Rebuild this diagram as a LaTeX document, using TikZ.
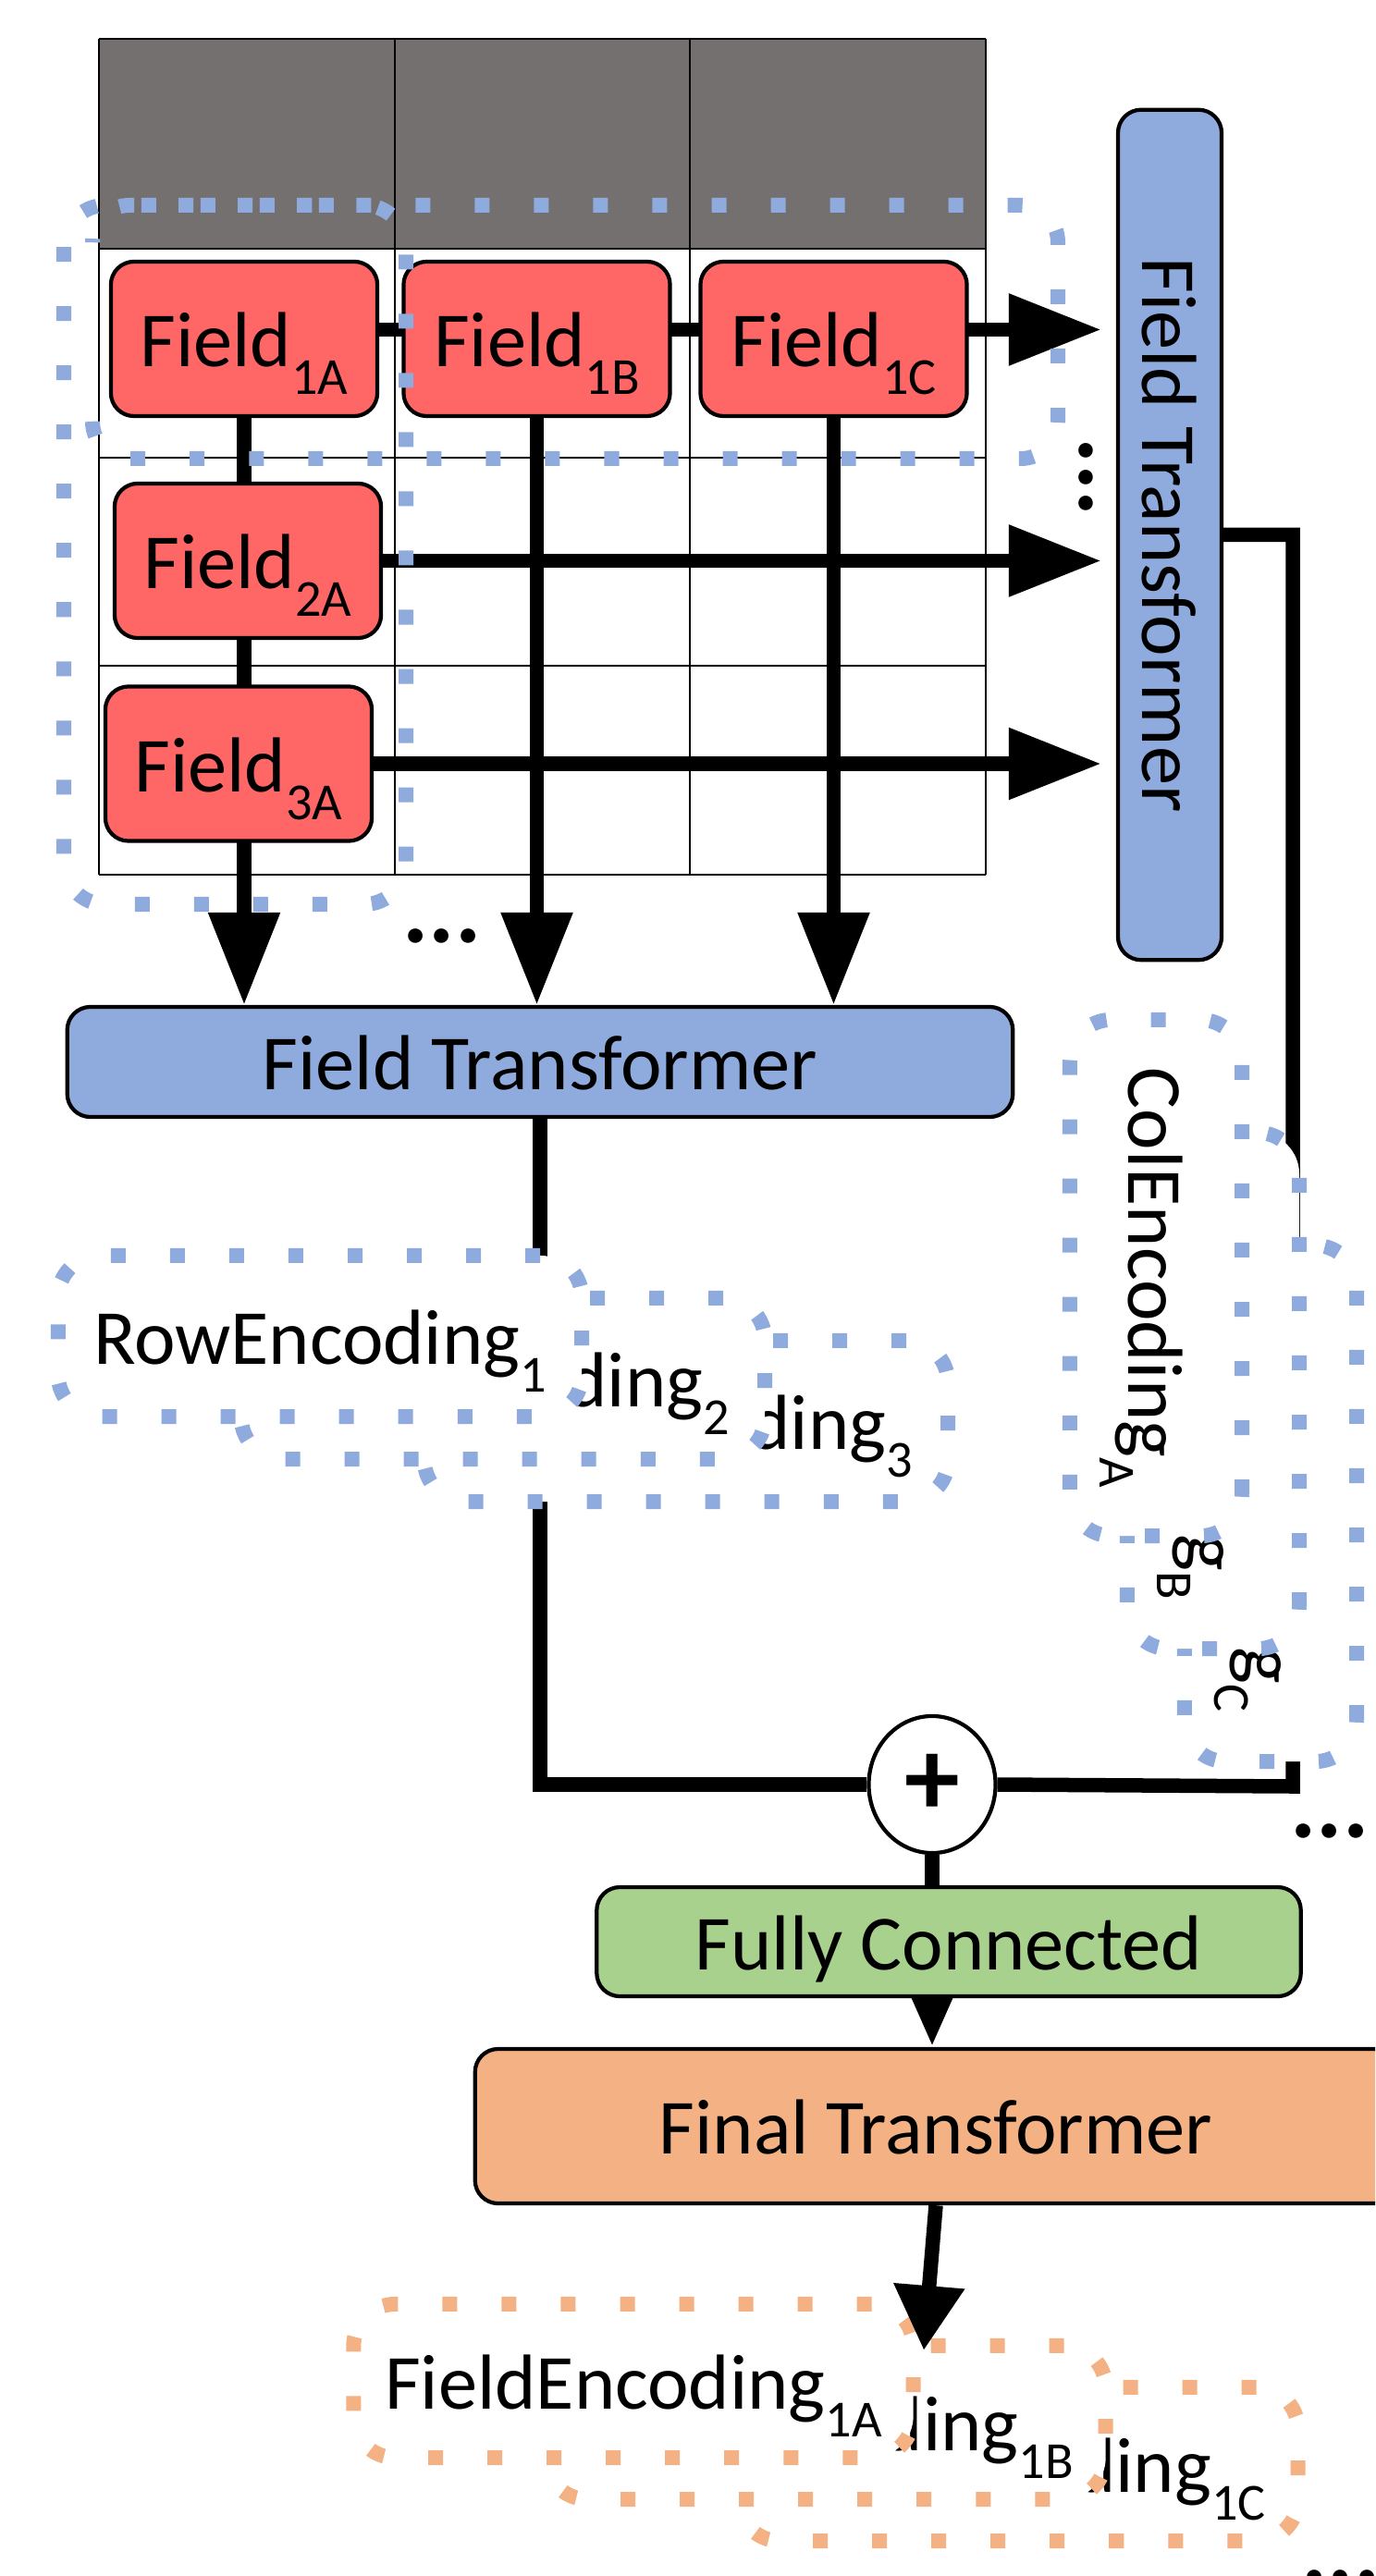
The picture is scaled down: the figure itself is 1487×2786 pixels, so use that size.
\documentclass[tikz,border=0pt]{standalone}
\usepackage{fontspec}
\setmainfont{Carlito}
\usetikzlibrary{arrows.meta,shapes.geometric}
\definecolor{hdrgray}{HTML}{757070}
\definecolor{cellred}{HTML}{FF6666}
\definecolor{tfblue}{HTML}{8FAADC}
\definecolor{fcgreen}{HTML}{A9D18E}
\definecolor{outorange}{HTML}{F4B183}
\pgfdeclarelayer{gridlayer}
\pgfdeclarelayer{wirelayer}
\pgfsetlayers{gridlayer,wirelayer,main}
\newcommand{\idx}[1]{\raisebox{-0.3cm}{\fontsize{16}{16}\selectfont #1}}
\tikzset{
  solidbox/.style={draw, line width=1.2pt, rounded corners=0.25cm, inner sep=0pt,
    font=\fontsize{24}{28}\selectfont, text height=0.6cm, text depth=0pt},
  field/.style={solidbox, fill=cellred, minimum width=2.88cm, minimum height=1.67cm},
  encbox/.style={draw=#1, fill=white, line width=0.16cm, dash pattern=on 0.16cm off 0.48cm,
    rounded corners=0.45cm, inner sep=0pt, font=\fontsize{24}{28}\selectfont,
    text height=0.6cm, text depth=0pt},
  seldots/.style={draw=tfblue, line width=0.16cm, dash pattern=on 0.16cm off 0.48cm},
  wire/.style={line width=0.155cm},
  bigtip/.style={-{Triangle[length=1cm,width=0.74cm]}},
  gridline/.style={line width=0.6pt},
  ellip/.style={font=\fontsize{30}{30}\selectfont\bfseries, inner sep=0pt}
}
\begin{document}
\begin{tikzpicture}[x=0.01cm, y=-0.01cm]
\useasboundingbox (0,0) rectangle (1487,2786);
\clip (0,0) rectangle (1487,2786);
\begin{pgfonlayer}{gridlayer}
\fill[hdrgray] (107,42) rectangle (1066,269);
\foreach \x in {107,427,746,1066} \draw[gridline] (\x,42) -- (\x,946);
\foreach \y in {42,269,495,720,946} \draw[gridline] (107,\y) -- (1066,\y);
\end{pgfonlayer}
\node[field] (f1a) at (264,366.5) {Field\idx{1A}};
\node[field] (f1b) at (580.5,366.5) {Field\idx{1B}};
\node[field] (f1c) at (901.5,366.5) {Field\idx{1C}};
\node[field] (f2a) at (268,606.5) {Field\idx{2A}};
\node[field] (f3a) at (258,826) {Field\idx{3A}};
\node[solidbox, fill=tfblue, minimum width=10.22cm, minimum height=1.19cm] (ftb) at (584,1148.5) {Field Transformer};
\node[solidbox, fill=tfblue, rotate=-90, minimum width=9.19cm, minimum height=1.12cm] (ftr) at (1265,578.5) {Field Transformer};
\node[ellipse, draw, fill=white, line width=1.2pt, minimum width=1.37cm, minimum height=1.48cm, inner sep=0pt, font=\fontsize{34}{34}\selectfont\bfseries] (plus) at (1008,1930) {+};
\coordinate (colturn) at (1398,1932);
\node[solidbox, fill=fcgreen, minimum width=7.61cm, minimum height=1.18cm] (fc) at (1026,2100) {Fully Connected};
\node[solidbox, fill=outorange, minimum width=9.96cm, minimum height=1.67cm] (fin) at (1012,2299.5) {Final Transformer};
\begin{pgfonlayer}{wirelayer}
\draw[wire, bigtip, shorten >=0.16cm] ([yshift=0.1cm]f1a.east) -- ([yshift=0.1cm]f1a.east -| ftr.south);
\draw[wire, bigtip, shorten >=0.16cm] (f2a.east) -- (f2a.east -| ftr.south);
\draw[wire, bigtip, shorten >=0.16cm] (f3a.east) -- (f3a.east -| ftr.south);
\draw[wire, bigtip] (f1a.south) -- (f1a.south |- ftb.north);
\draw[wire, bigtip] (f1b.south) -- (f1b.south |- ftb.north);
\draw[wire, bigtip] (f1c.south) -- (f1c.south |- ftb.north);
\draw[wire] (ftb.south) |- (plus.west);
\draw[wire] (ftr.north) -| (colturn) -- (plus.east);
\end{pgfonlayer}
\draw[seldots, rounded corners=0.4cm] (100,456) |- (1144,496) |- (100,222) -- (100,262);
\draw[seldots, rounded corners=0.45cm] (69,222) rectangle (439,978);
\node[encbox=tfblue, minimum width=5.66cm, minimum height=1.74cm] (row3) at (742,1537) {RowEncoding\idx{3}};
\node[encbox=tfblue, minimum width=5.66cm, minimum height=1.74cm] (row2) at (544,1491) {RowEncoding\idx{2}};
\node[encbox=tfblue, minimum width=5.66cm, minimum height=1.74cm] (row1) at (346,1445) {RowEncoding\idx{1}};
\node[encbox=tfblue, rotate=-90, minimum width=5.58cm, minimum height=1.86cm] (colc) at (1374,1626) {ColEncoding\idx{C}};
\node[encbox=tfblue, rotate=-90, minimum width=5.58cm, minimum height=1.86cm] (colb) at (1312,1504) {ColEncoding\idx{B}};
\node[encbox=tfblue, rotate=-90, minimum width=5.58cm, minimum height=1.86cm] (cola) at (1250,1382) {ColEncoding\idx{A}};
\node[encbox=outorange, minimum width=6.05cm, minimum height=1.66cm] (fe1c) at (1101,2665) {FieldEncoding\idx{1C}};
\node[encbox=outorange, minimum width=6.05cm, minimum height=1.66cm] (fe1b) at (893,2620) {FieldEncoding\idx{1B}};
\node[encbox=outorange, minimum width=6.05cm, minimum height=1.66cm] (fe1a) at (685,2575) {FieldEncoding\idx{1A}};
\node[ellip] (dotsa) at (478,1012) {...};
\node[ellip, rotate=90] (dotsb) at (1174,516) {...};
\node[ellip] (dotsc) at (1438,1980) {...};
\node[ellip] (dotsd) at (1450,2787) {...};
\draw[wire] (plus.south) -- (plus.south |- fc.north);
\draw[wire, -{Triangle[length=0.55cm,width=0.42cm]}] (plus.south |- fc.south) -- (plus.south |- fin.north);
\coordinate (fetip) at (999,2542);
\draw[wire, -{Triangle[length=0.7cm,width=0.73cm]}] (fin.south) -- (fetip);
\end{tikzpicture}
\end{document}
